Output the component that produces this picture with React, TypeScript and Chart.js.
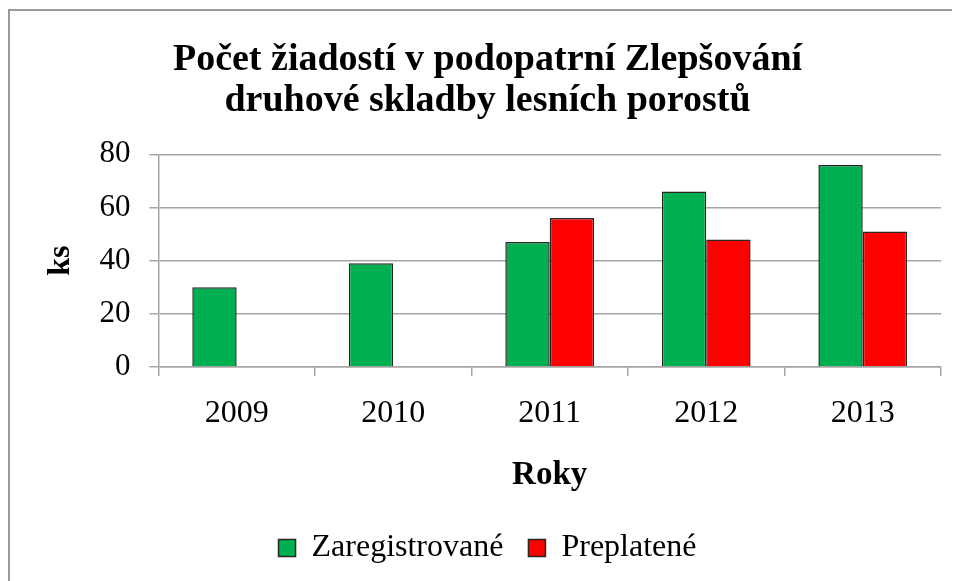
import React, { useEffect, useRef } from "react";
import { Chart, registerables } from "chart.js";

Chart.register(...registerables);

const categories = ["2009", "2010", "2011", "2012", "2013"];
const zaregistrovane = [30, 39, 47, 66, 76];
const preplatene: (number | null)[] = [null, null, 56, 48, 51];
const titleLines = ["Počet žiadostí v podopatrní Zlepšování", "druhové skladby lesních porostů"];
const seriesNames = ["Zaregistrované", "Preplatené"];

export default function App() {
  const ref = useRef<HTMLCanvasElement | null>(null);
  useEffect(() => {
    if (!ref.current) return;
    document.body.style.overflow = "hidden";
    const serif = "'Liberation Serif', 'Times New Roman', serif";
    const chart = new Chart(ref.current, {
      type: "bar",
      data: {
        labels: categories,
        datasets: [
          {
            label: seriesNames[0],
            data: zaregistrovane,
            backgroundColor: "#00b050",
            borderColor: "#262626",
            borderWidth: 1.5,
          },
          {
            label: seriesNames[1],
            data: preplatene,
            backgroundColor: "#ff0000",
            borderColor: "#262626",
            borderWidth: 1.5,
          },
        ],
      },
      options: {
        animation: false,
        responsive: false,
        maintainAspectRatio: false,
        color: "#000",
        layout: { padding: { left: 24, right: 19, top: 0, bottom: 7 } },
        datasets: { bar: { categoryPercentage: 0.567, barPercentage: 1 } },
        plugins: {
          title: {
            display: true,
            text: titleLines,
            color: "#000",
            font: { family: serif, size: 38, weight: "bold", lineHeight: 1.07 },
            padding: { top: 29, bottom: 33 },
          },
          legend: {
            position: "bottom",
            labels: {
              color: "#000",
              boxWidth: 17,
              boxHeight: 17,
              padding: 25,
              font: { family: serif, size: 32 },
            },
          },
          tooltip: { enabled: false },
        },
        scales: {
          x: {
            grid: {
              display: true,
              drawOnChartArea: false,
              drawTicks: true,
              tickLength: 9,
              color: "#a6a6a6",
              lineWidth: 1.5,
            },
            border: { display: true, color: "#a6a6a6", width: 1.5 },
            ticks: { color: "#000", padding: 18, font: { family: serif, size: 32 } },
            title: {
              display: true,
              text: "Roky",
              color: "#000",
              font: { family: serif, size: 33, weight: "bold" },
              padding: { top: 5, bottom: 12 },
            },
          },
          y: {
            min: 0,
            max: 80,
            grid: {
              color: "#a6a6a6",
              lineWidth: 1.5,
              tickLength: 9,
            },
            border: { display: true, color: "#a6a6a6", width: 1.5 },
            ticks: { stepSize: 20, color: "#000", padding: 19, font: { family: serif, size: 31 } },
            title: {
              display: true,
              text: "ks",
              color: "#000",
              font: { family: serif, size: 32, weight: "bold" },
              padding: { top: 8, bottom: 0 },
            },
          },
        },
      },
    });
    return () => chart.destroy();
  }, []);
  return (
    <div
      style={{
        width: 952,
        height: 573,
        boxSizing: "border-box",
        borderTop: "2px solid #999",
        borderLeft: "2px solid #999",
        marginTop: 1,
        background: "#fff",
        overflow: "hidden",
      }}
    >
      <canvas ref={ref} width={950} height={570} style={{ display: "block" }} />
    </div>
  );
}
